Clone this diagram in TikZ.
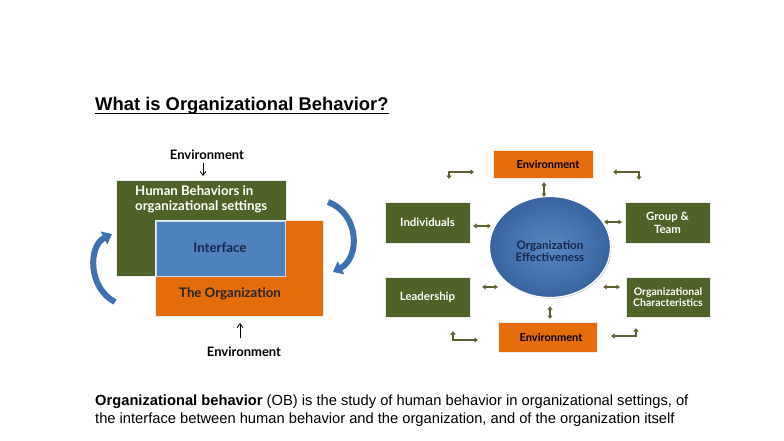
\documentclass[tikz,border=0pt]{standalone}
\usepackage{fontspec}
\setmainfont{Liberation Sans}
\newfontfamily\dfont{Lato}
\usetikzlibrary{arrows.meta,shadows,calc,shapes.geometric}
\definecolor{ogreen}{HTML}{4F6228}
\definecolor{oorange}{HTML}{E46C0A}
\definecolor{oblue}{HTML}{4F81BD}
\definecolor{cblue}{HTML}{3E70B2}
\definecolor{navy}{HTML}{17264A}
\definecolor{arrowol}{HTML}{5F5F30}
\tikzset{
  box/.style={inner sep=0pt, outer sep=0pt, draw=white!85!gray, line width=0.6pt,
     drop shadow={opacity=0.35, shadow xshift=1.2pt, shadow yshift=-1.2pt}},
  gbox/.style={box, fill=ogreen, text=white, font=\dfont\bfseries\fontsize{11.4}{13}\selectfont, align=center},
  obox/.style={box, fill=oorange, text=black, font=\dfont\bfseries\fontsize{11}{13}\selectfont, align=center},
  dlabel/.style={font=\dfont\bfseries\fontsize{13}{15}\selectfont, text=black},
  smallarr/.style={draw=arrowol, line width=2pt, {Latex[length=3.5pt,width=5.5pt]}-{Latex[length=3.5pt,width=5.5pt]}},
  bentarr/.style={draw=arrowol, line width=2.3pt, {Latex[length=3.5pt,width=6pt]}-{Latex[length=3.5pt,width=6pt]}},
  curvarr/.style={draw=cblue, line width=6pt, -{Triangle[length=9pt,width=14pt]}},
  envarr/.style={draw=black, line width=0.8pt, -{Straight Barb[length=4pt,width=6pt]}},
}
\begin{document}
\begin{tikzpicture}[x=1pt,y=-1pt]
\useasboundingbox[fill=white] (0,0) rectangle (784,441);

% Title
\node[anchor=base west, inner sep=0pt, font=\fontsize{18.4}{21}\selectfont\bfseries] (title) at (95,111) {What is Organizational Behavior?};
\draw[line width=1.2pt] ([yshift=-2.5pt]title.base west) -- ([yshift=-2.5pt]title.base east);

% ---------- Left diagram ----------
\node[dlabel] (envtop) at (207,155) {Environment};
\node[box, fill=ogreen, minimum width=170pt, minimum height=96pt, anchor=north west] (hb) at (116,180) {};
\node[anchor=north west, text=white, align=left, inner sep=0pt, font=\dfont\bfseries\fontsize{13.2}{15}\selectfont] (hbt) at (135,185) {Human Behaviors in\\organizational settings};
\node[box, fill=oorange, minimum width=168pt, minimum height=96pt, anchor=north west] (org) at (155,220) {};
\node[box, fill=oblue, minimum width=129pt, minimum height=55pt, anchor=north west, draw=white!70!oblue] (intf) at (156,221) {};
\node[text=navy, font=\dfont\bfseries\fontsize{13.3}{15}\selectfont] (intft) at (220,248) {Interface};
\node[text=black!85, font=\dfont\bfseries\fontsize{13.2}{15}\selectfont] (orgt) at (230,294) {The Organization};
\node[dlabel] (envbot) at (244,352) {Environment};
\coordinate (ea1) at (203,163);
\coordinate (ea2) at (203,176);
\draw[envarr] (ea1) -- (ea2);
\coordinate (eb1) at (240,338);
\coordinate (eb2) at (240,323);
\draw[envarr] (eb1) -- (eb2);
\coordinate (la) at (115,302);
\coordinate (lb) at (112,234);
\coordinate (ra) at (328,202);
\coordinate (rb) at (333,272);
\draw[curvarr] (la) .. controls (88,288) and (88,246) .. (lb);
\draw[curvarr] (ra) .. controls (360,214) and (360,258) .. (rb);

% ---------- Right diagram ----------
\node[obox, minimum width=100pt, minimum height=28pt, anchor=north west] (envT) at (493,150) {};
\node[dlabel, font=\dfont\bfseries\fontsize{11}{13}\selectfont] at (548,164) {Environment};
\node[obox, minimum width=99pt, minimum height=30pt, anchor=north west] (envB) at (498,322) {};
\node[dlabel, font=\dfont\bfseries\fontsize{11}{13}\selectfont] at (551,337) {Environment};
\node[shape=ellipse, draw=white, line width=1.2pt, inner color=oblue!95!white, outer color=cblue!90!black,
      minimum width=121pt, minimum height=101pt, inner sep=0pt,
      drop shadow={opacity=0.3, shadow xshift=1.2pt, shadow yshift=-1.2pt}] (circ) at (550,247) {};
\node[text=navy, align=center, font=\dfont\bfseries\fontsize{11.6}{12.5}\selectfont] (circt) at (550,251) {Organization\\Effectiveness};

\node[gbox, minimum width=85pt, minimum height=41pt, anchor=north west] (ind) at (385,202) {Individuals};
\node[gbox, minimum width=85pt, minimum height=40pt, anchor=north west] (lead) at (385,277) {Leadership};
\node[gbox, minimum width=85pt, minimum height=41pt, anchor=north west] (grp) at (625,202) {Group \&\\Team};
\node[gbox, minimum width=84pt, minimum height=40pt, anchor=north west, font=\dfont\bfseries\fontsize{10.5}{11.5}\selectfont] (och) at (626,277) {Organizational\\Characteristics};

% small straight arrows
\coordinate (a1) at (473,226); \coordinate (a2) at (491,226);
\draw[smallarr] (a1) -- (a2);
\coordinate (b1) at (482,287); \coordinate (b2) at (498,287);
\draw[smallarr] (b1) -- (b2);
\coordinate (c1) at (604,222); \coordinate (c2) at (622,222);
\draw[smallarr] (c1) -- (c2);
\coordinate (d1) at (603,287); \coordinate (d2) at (620,287);
\draw[smallarr] (d1) -- (d2);
\coordinate (e1) at (544,182); \coordinate (e2) at (544,197);
\draw[smallarr] (e1) -- (e2);
\coordinate (f1) at (550,306); \coordinate (f2) at (550,319);
\draw[smallarr] (f1) -- (f2);

% bent arrows
\coordinate (g1) at (449,179); \coordinate (g2) at (474,172);
\draw[bentarr] (g1) |- (g2);
\coordinate (h1) at (613,172); \coordinate (h2) at (639,180);
\draw[bentarr] (h1) -| (h2);
\coordinate (i1) at (453,331); \coordinate (i2) at (478,340);
\draw[bentarr] (i1) |- (i2);
\coordinate (j1) at (611,336); \coordinate (j2) at (636,328);
\draw[bentarr] (j1) -| (j2);

% ---------- Bottom text ----------
\node[anchor=north west, inner sep=0pt, align=left, font=\fontsize{14.7}{18}\selectfont] (desc) at (95,395)
  {\textbf{Organizational behavior} (OB) is the study of human behavior in organizational settings, of\\
   the interface between human behavior and the organization, and of the organization itself};
\end{tikzpicture}
\end{document}
